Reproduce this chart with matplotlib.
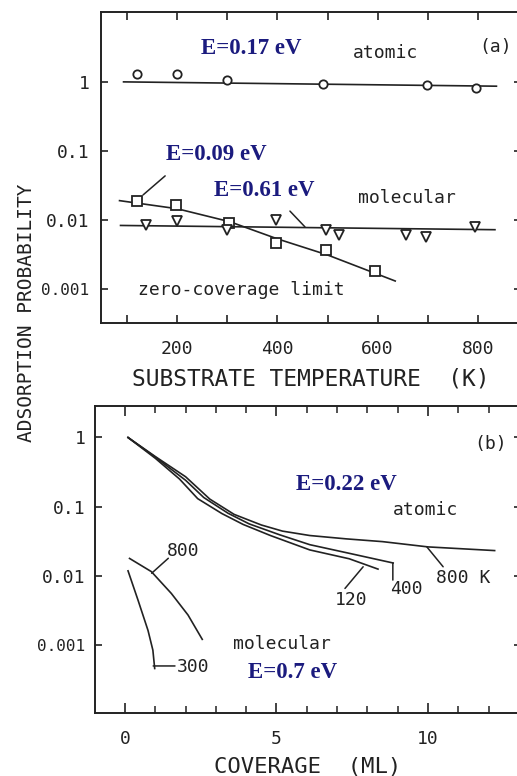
import matplotlib
matplotlib.use("Agg")
import matplotlib.pyplot as plt
from matplotlib.ticker import FixedLocator, NullLocator, MultipleLocator

# ---------------- data: panel (a) ----------------
atomic_T = [119, 199, 300, 490, 699, 797]
atomic_p = [1.32, 1.32, 1.06, 0.92, 0.90, 0.82]
atomic_fit_T = [93, 837]
atomic_fit_p = [1.0, 0.866]

mol_sq_T = [120, 198, 304, 397, 497, 595]
mol_sq_p = [0.0188, 0.0165, 0.0091, 0.0046, 0.0036, 0.0018]
mol_sq_fit_T = [85, 200, 305, 400, 500, 635]
mol_sq_fit_p = [0.019, 0.0145, 0.0094, 0.0053, 0.0031, 0.0013]

mol_tri_T = [138, 199, 299, 397, 496, 523, 656, 697, 794]
mol_tri_p = [0.0085, 0.0095, 0.0072, 0.0100, 0.0072, 0.0061, 0.0061, 0.0057, 0.0080]
mol_tri_fit_T = [87, 834]
mol_tri_fit_p = [0.0083, 0.0072]

xticks_a = [100, 200, 300, 400, 500, 600, 700, 800]
xticklabels_a = ['', '200', '', '400', '', '600', '', '800']
yticks = [0.001, 0.01, 0.1, 1]
yticklabels = ['0.001', '0.01', '0.1', '1']

# ---------------- data: panel (b) ----------------
cov_800 = [0.1, 1.0, 2.0, 2.8, 3.6, 4.5, 5.2, 6.1, 7.3, 8.5, 10.0, 12.2]
p_800 = [1.0, 0.53, 0.27, 0.128, 0.077, 0.054, 0.044, 0.038, 0.034, 0.031, 0.026, 0.023]
cov_400 = [0.1, 1.0, 2.0, 2.6, 3.4, 4.1, 5.1, 6.1, 7.4, 8.85]
p_400 = [1.0, 0.52, 0.24, 0.135, 0.080, 0.056, 0.039, 0.028, 0.021, 0.0152]
cov_120 = [0.1, 1.0, 1.8, 2.4, 3.2, 3.9, 4.8, 6.1, 7.4, 8.35]
p_120 = [1.0, 0.50, 0.25, 0.13, 0.079, 0.055, 0.038, 0.0235, 0.0175, 0.0124]

mcov_800 = [0.15, 0.87, 1.53, 2.08, 2.55]
mp_800 = [0.0177, 0.0114, 0.0055, 0.00268, 0.00119]
mcov_300 = [0.1, 0.43, 0.76, 0.92, 0.98]
mp_300 = [0.0117, 0.0044, 0.0016, 0.00083, 0.00045]

xticks_b = [0, 5, 10]

# ---------------- styling ----------------
W, H = 517, 776
INK = '#222222'
NAVY = '#1b1b7e'
MONO = 'DejaVu Sans Mono'
SERIF = 'Liberation Serif'

def fx(x):
    return x / W

def fy(y):
    return 1 - y / H

fig = plt.figure(figsize=(W / 100, H / 100), dpi=100)
fig.patch.set_facecolor('white')

def style_axes(ax):
    for s in ax.spines.values():
        s.set_linewidth(1.4)
        s.set_color(INK)
    ax.set_yscale('log')
    ax.yaxis.set_major_locator(FixedLocator(yticks))
    ax.yaxis.set_minor_locator(NullLocator())
    ax.set_yticklabels(yticklabels, family=MONO, fontsize=13, color=INK)
    for lab in ax.get_yticklabels():
        if lab.get_text() == '0.001':
            lab.set_fontsize(11.5)
    ax.tick_params(axis='y', which='both', direction='in', left=True, right=True,
                   length=5, width=1.2, color=INK)

# ---------------- panel (a) ----------------
ax1 = fig.add_axes([fx(101), fy(323), fx(521 - 101), (323 - 12) / H])
style_axes(ax1)
ax1.tick_params(axis='y', pad=8.5)
ax1.set_xlim(48, 886)
ax1.set_ylim(3.2e-4, 10.3)
ax1.set_xticks(xticks_a)
ax1.set_xticklabels(xticklabels_a, family=MONO, fontsize=13, color=INK)
ax1.tick_params(axis='x', which='both', direction='in', top=True, bottom=True,
                length=6, width=1.2, pad=12, color=INK)

ax1.plot(atomic_fit_T, atomic_fit_p, color=INK, lw=1.2)
ax1.plot(atomic_T, atomic_p, 'o', ms=6, mfc='white', mec=INK, mew=1.3)
ax1.plot(mol_sq_fit_T, mol_sq_fit_p, color=INK, lw=1.2)
ax1.plot(mol_sq_T, mol_sq_p, 's', ms=6.5, mfc='white', mec=INK, mew=1.3)
ax1.plot(mol_tri_fit_T, mol_tri_fit_p, color=INK, lw=1.2)
ax1.plot(mol_tri_T, mol_tri_p, 'v', ms=6.5, mfc='white', mec=INK, mew=1.3)

# leader lines
ax1.annotate('', xy=(132, 0.023), xytext=(176, 0.0434),
             arrowprops=dict(arrowstyle='-', lw=1.1, color=INK, shrinkA=0, shrinkB=0))
ax1.annotate('', xy=(455, 0.0079), xytext=(425, 0.0134),
             arrowprops=dict(arrowstyle='-', lw=1.1, color=INK, shrinkA=0, shrinkB=0))

ax1.set_xlabel('SUBSTRATE TEMPERATURE  (K)', family=MONO, fontsize=16.5,
               color=INK, labelpad=7)

# ---------------- panel (b) ----------------
ax2 = fig.add_axes([fx(95), fy(713), fx(521 - 95), (713 - 406) / H])
style_axes(ax2)
ax2.tick_params(axis='y', pad=7)
ax2.set_xlim(-0.99, 13.07)
ax2.set_ylim(1.02e-4, 2.86)
ax2.set_xticks(xticks_b)
ax2.set_xticklabels([str(v) for v in xticks_b], family=MONO, fontsize=13, color=INK)
ax2.xaxis.set_minor_locator(MultipleLocator(1))
ax2.tick_params(axis='x', which='major', direction='in', top=True, bottom=True,
                length=7, width=1.2, pad=12, color=INK)
ax2.tick_params(axis='x', which='minor', direction='in', top=True, bottom=True,
                length=5, width=1.1, color=INK)

for c, p in [(cov_800, p_800), (cov_400, p_400), (cov_120, p_120),
             (mcov_800, mp_800), (mcov_300, mp_300)]:
    ax2.plot(c, p, color=INK, lw=1.2)

leaders_b = [((9.96, 0.0261), (10.5, 0.0134)),
             ((8.84, 0.0152), (8.84, 0.0086)),
             ((7.86, 0.0134), (7.26, 0.0065)),
             ((0.88, 0.0108), (1.43, 0.0178)),
             ((0.93, 0.00049), (1.65, 0.00049))]
for a, b in leaders_b:
    ax2.annotate('', xy=a, xytext=b,
                 arrowprops=dict(arrowstyle='-', lw=1.1, color=INK, shrinkA=0, shrinkB=0))

ax2.set_xlabel('COVERAGE  (ML)', family=MONO, fontsize=16, color=INK, labelpad=7)

# ---------------- text annotations ----------------
def mono(x, y, s, size=13):
    fig.text(fx(x), fy(y), s, family=MONO, fontsize=size, color=INK,
             ha='center', va='center')

def navy(x, y, s):
    fig.text(fx(x), fy(y), s, family=SERIF, fontweight='bold', fontsize=16.5,
             color=NAVY, ha='center', va='center')

navy(251, 49, 'E=0.17 eV')
navy(216, 154, 'E=0.09 eV')
navy(264, 190, 'E=0.61 eV')
navy(346, 484, 'E=0.22 eV')
navy(293, 672, 'E=0.7 eV')

mono(385, 53, 'atomic')
mono(496, 47, '(a)')
mono(407, 198, 'molecular')
mono(241, 290, 'zero-coverage limit')
mono(491, 444, '(b)')
mono(426, 510, 'atomic')
mono(282, 644, 'molecular')
mono(463, 578, '800 K')
mono(406, 589, '400')
mono(351, 600, '120')
mono(183, 551, '800')
mono(193, 667, '300')

fig.text(fx(27), fy(313), 'ADSORPTION PROBABILITY', family=MONO, fontsize=14,
         color=INK, rotation=90, ha='center', va='center')

fig.savefig('out.png', dpi=100, facecolor='white')
